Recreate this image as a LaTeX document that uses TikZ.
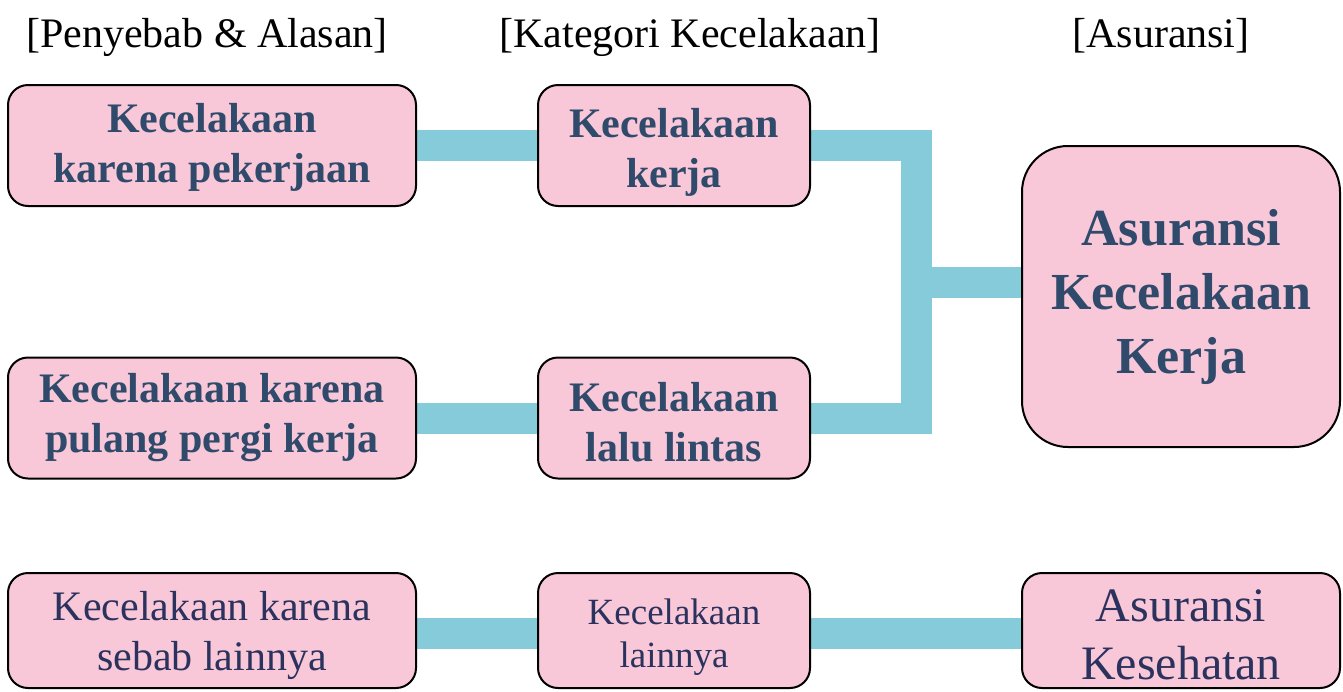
\documentclass[tikz,border=0pt]{standalone}
\usepackage{fontspec}
\setmainfont{Liberation Serif}
\usetikzlibrary{backgrounds}
\definecolor{boxfill}{RGB}{248,200,216}
\definecolor{boldblue}{RGB}{47,74,107}
\definecolor{regblue}{RGB}{44,50,94}
\definecolor{conncol}{RGB}{134,203,217}
\tikzset{
  box/.style={draw=black, line width=1pt, fill=boxfill, rounded corners=10pt, align=center, inner sep=0pt},
  smallbox/.style={box, minimum width=204pt, minimum height=60.5pt},
  midbox/.style={box, minimum width=136pt, minimum height=60.5pt},
  bigtxt/.style={font=\fontsize{21}{25}\selectfont\bfseries, text=boldblue},
  regtxt/.style={font=\fontsize{21}{25}\selectfont, text=regblue},
  conn/.style={draw=conncol, line width=15.5pt, line join=miter},
  header/.style={font=\fontsize{21}{25}\selectfont, anchor=base, text=black}
}
\begin{document}
\begin{tikzpicture}[x=0.5pt, y=-0.5pt]
\useasboundingbox (0,0) rectangle (1343,691);
% headers
\node[header] (h1) at (207,47) {[Penyebab \& Alasan]};
\node[header] (h2) at (690,47) {[Kategori Kecelakaan]};
\node[header] (h3) at (1161,47) {[Asuransi]};
% row 1
\node[smallbox, bigtxt] (a1) at (212,145.5) {\rule{0pt}{16pt}Kecelakaan\\karena pekerjaan};
\node[midbox, bigtxt] (b1) at (674,145.5) {\rule{0pt}{21.5pt}Kecelakaan\\kerja};
% row 2
\node[smallbox, bigtxt] (a2) at (212,418) {Kecelakaan karena\\pulang pergi kerja};
\node[midbox, bigtxt] (b2) at (674,418) {\rule{0pt}{18.5pt}Kecelakaan\\lalu lintas};
% big box
\node[box, rounded corners=23pt, minimum width=159pt, minimum height=150.5pt,
      font=\fontsize{26}{32}\selectfont\bfseries, text=boldblue] (c1) at (1181,296.5) {Asuransi\\Kecelakaan\\Kerja};
% row 3
\node[smallbox, regtxt, minimum height=57.5pt] (a3) at (212,630.5) {\rule{0pt}{19.5pt}Kecelakaan karena\\sebab lainnya};
\node[midbox, minimum height=57.5pt, font=\fontsize{18.5}{21.5}\selectfont, text=regblue] (b3) at (674,630.5) {\rule{0pt}{19pt}Kecelakaan\\lainnya};
\node[box, minimum width=159pt, minimum height=57.5pt, font=\fontsize{24}{29}\selectfont, text=regblue] (c3) at (1181,630.5) {\rule{0pt}{20pt}Asuransi\\Kesehatan};
\coordinate (j) at (916,282);
\begin{scope}[on background layer]
\draw[conn] (a1.east) -- (b1.west);
\draw[conn] (a2.east) -- (b2.west);
\draw[conn] (b1.east) -| (j) |- (b2.east);
\draw[conn] (j) -- (j -| c1.west);
\draw[conn] (a3.east |- 0,633) -- (b3.west |- 0,633);
\draw[conn] (b3.east |- 0,633) -- (c3.west |- 0,633);
\end{scope}
\end{tikzpicture}
\end{document}
